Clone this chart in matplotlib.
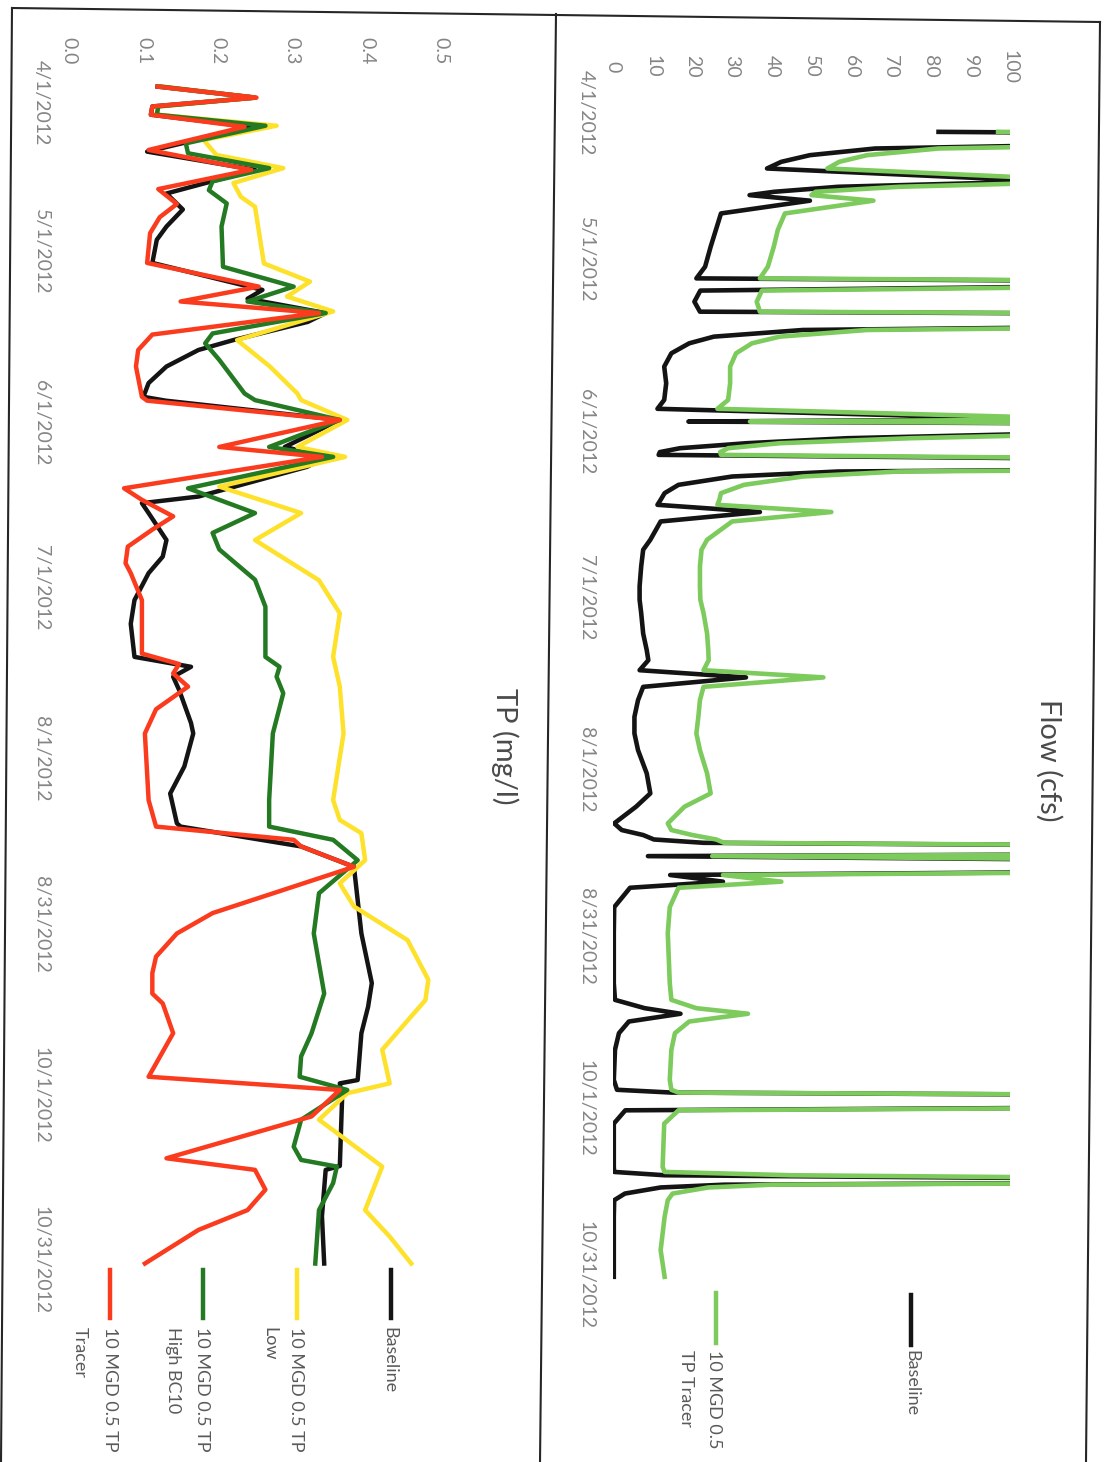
import numpy as np
import pandas as pd
import matplotlib
matplotlib.use('Agg')
import matplotlib.pyplot as plt
from matplotlib import transforms
from matplotlib.lines import Line2D

plt.rcParams['font.family'] = ['Lato', 'DejaVu Sans']

# ---- data (days since 4/1/2012) ----
flow_day = [7.0, 7.6, 9.2, 10.0, 11.2, 12.4, 13.6, 15.9, 16.9, 17.8,
            18.4, 19.4, 21.7, 24.7, 27.7, 31.3, 33.4, 34.2, 35.6, 37.6,
            39.4, 40.0, 41.9, 42.7, 43.9, 45.1, 46.9, 49.3, 52.3, 55.3,
            56.9, 58.8, 59.2, 59.8, 61.2, 62.2, 63.1, 64.0, 64.7, 65.2,
            66.4, 67.5, 68.2, 69.1, 70.6, 72.1, 73.3, 74.2, 75.5, 77.2,
            80.5, 82.3, 85.3, 88.9, 91.3, 93.7, 97.4, 100.4, 102.2, 104.0,
            105.3, 107.0, 109.4, 112.4, 115.4, 118.4, 122.6, 126.2, 128.6, 131.6,
            132.8, 133.7, 134.5, 135.1, 135.9, 137.1, 137.5, 138.6, 140.2, 140.9,
            142.1, 143.2, 146.7, 151.4, 160.4, 163.4, 164.9, 165.9, 167.3, 169.4,
            172.4, 177.8, 179.6, 180.1, 180.8, 182.7, 183.3, 185.7, 193.5, 194.4,
            195.0, 196.0, 196.3, 196.7, 197.2, 198.3, 199.5, 202.5, 205.5, 208.5,
            213.3]
flow_base = [82, 200, 130, 66, 49.6, 42.4, 38.8, 110, 56.7, 40.6,
             34.4, 49.6, 27.2, 25.9, 24.6, 23.2, 21.0, 200, 22.0, 20.5,
             21.9, 200, 160, 47.8, 25.4, 19.2, 14.7, 12.9, 13.4, 12.9,
             11.2, 110, 19.0, 200, 120, 59, 33.7, 16.9, 11.8, 11.5,
             200, 200, 56.7, 30.0, 16.5, 13.0, 12.0, 11.2, 37.0, 12.0,
             9.4, 7.6, 7.1, 6.7, 6.7, 7.1, 7.6, 8.5, 8.9, 6.7,
             33.5, 7.6, 6.3, 5.4, 5.4, 6.3, 8.5, 9.4, 5.8, 0.3,
             2.2, 7.6, 10.3, 22.8, 200, 160, 8.8, 200, 150, 14.4,
             27.7, 4.3, 0.3, 0.2, 0.2, 0.5, 8.0, 17.0, 4.0, 1.5,
             0.5, 0.2, 1.0, 14.7, 200, 150, 3.1, 0.2, 0.2, 0.3,
             13.0, 200, 150, 28.0, 12.0, 3.0, 0.3, 0.2, 0.2, 0.2,
             0.2]
flow_tracer = [97, 215, 145, 82, 64, 57, 54, 125, 72, 51,
               50, 65.6, 43.3, 41.5, 40.5, 39.0, 37.0, 215, 37.5, 36.2,
               37.0, 215, 175, 64, 42, 35, 31, 29.5, 29.5, 29.0,
               26.3, 125, 34.5, 215, 135, 75, 42, 29, 27, 27.2,
               215, 215, 72, 47.8, 33, 27.2, 26.8, 26.3, 55, 30,
               23.7, 22.3, 21.9, 21.9, 22.0, 22.8, 23.7, 24.0, 24.1, 22.8,
               53, 22.8, 21.9, 21.5, 21.0, 21.9, 23.7, 24.6, 18.0, 13.8,
               14.7, 20.0, 26.0, 28.0, 215, 175, 25.0, 215, 165, 27.7,
               42.4, 16.5, 14.3, 13.8, 14.3, 14.7, 21.0, 34.0, 19.2, 15.6,
               14.7, 14.3, 14.7, 16.5, 215, 165, 16.5, 12.9, 12.5, 13.0,
               45, 215, 165, 40, 24, 15, 13.8, 13.0, 12.5, 12.0,
               13.0]

tp_base_day = [0.0, 2.0, 3.6, 5.1, 7.3, 11.8, 15.1, 19.4, 22.3, 25.4,
               27.8, 32.0, 36.9, 38.5, 41.1, 42.7, 46.0, 47.8, 50.8, 53.8,
               56.3, 57.0, 60.5, 65.4, 67.2, 69.0, 74.4, 75.6, 77.4, 82.3,
               85.3, 88.3, 93.2, 97.5, 103.5, 105.3, 107.1, 109.5, 115.5, 117.4,
               123.4, 128.3, 133.7, 134.3, 137.9, 141.6, 153.7, 162.7, 167.0, 171.8,
               180.3, 180.9, 183.9, 195.9, 196.6, 205.0, 213.6]
tp_base = [0.119, 0.25, 0.112, 0.11, 0.245, 0.105, 0.25, 0.131, 0.153, 0.131,
           0.118, 0.112, 0.26, 0.24, 0.345, 0.321, 0.221, 0.174, 0.131, 0.107,
           0.1, 0.13, 0.364, 0.29, 0.345, 0.32, 0.174, 0.098, 0.107, 0.131,
           0.126, 0.107, 0.088, 0.083, 0.088, 0.164, 0.14, 0.148, 0.164, 0.167,
           0.155, 0.136, 0.145, 0.15, 0.312, 0.383, 0.393, 0.407, 0.402, 0.393,
           0.388, 0.364, 0.367, 0.364, 0.345, 0.34, 0.343]

tp_low_day = [0.0, 2.0, 3.6, 5.1, 7.1, 9.7, 12.4, 14.8, 17.5, 20.0,
              21.8, 32.1, 35.4, 38.1, 40.8, 46.0, 50.8, 55.7, 56.9, 60.5,
              65.4, 67.2, 72.6, 77.4, 82.3, 89.6, 95.6, 103.5, 108.9, 117.4,
              129.5, 133.1, 135.5, 140.4, 144.6, 148.8, 154.9, 162.1, 165.8, 174.8,
              180.9, 182.7, 187.5, 191.8, 196.0, 203.9, 208.7, 213.6]
tp_low = [0.124, 0.25, 0.12, 0.118, 0.279, 0.181, 0.198, 0.288, 0.221, 0.231,
          0.25, 0.262, 0.324, 0.293, 0.355, 0.226, 0.27, 0.307, 0.312, 0.374,
          0.307, 0.371, 0.202, 0.312, 0.25, 0.336, 0.364, 0.355, 0.364, 0.369,
          0.355, 0.364, 0.393, 0.398, 0.364, 0.383, 0.455, 0.483, 0.479, 0.421,
          0.431, 0.374, 0.336, 0.379, 0.421, 0.398, 0.431, 0.46]

tp_high_day = [0.0, 2.0, 3.6, 5.1, 7.1, 10.3, 12.1, 14.8, 17.2, 18.8,
               21.2, 25.4, 32.7, 36.3, 39.0, 41.1, 44.8, 46.6, 49.6, 55.7,
               56.9, 60.5, 65.4, 67.2, 72.9, 77.4, 81.0, 84.0, 89.5, 94.4,
               103.5, 105.3, 107.1, 110.1, 117.4, 129.5, 134.3, 136.7, 140.4, 146.4,
               153.7, 164.6, 171.8, 176.0, 179.7, 182.1, 187.5, 192.4, 194.8, 196.0,
               199.0, 203.9, 213.6]
tp_high = [0.124, 0.25, 0.12, 0.118, 0.264, 0.157, 0.16, 0.269, 0.193, 0.188,
           0.212, 0.205, 0.207, 0.302, 0.24, 0.345, 0.193, 0.183, 0.202, 0.236,
           0.25, 0.364, 0.269, 0.355, 0.16, 0.25, 0.193, 0.202, 0.25, 0.264,
           0.264, 0.283, 0.279, 0.288, 0.274, 0.269, 0.269, 0.355, 0.388, 0.336,
           0.329, 0.343, 0.326, 0.312, 0.31, 0.374, 0.312, 0.302, 0.312, 0.36,
           0.355, 0.336, 0.331]

tp_tracer_day = [0.0, 2.0, 3.6, 5.1, 7.3, 11.5, 15.1, 18.6, 21.3, 23.7,
                 26.6, 32.0, 36.3, 39.0, 41.1, 45.0, 47.8, 50.8, 56.3, 57.0,
                 60.5, 65.4, 67.2, 72.9, 75.0, 78.0, 80.4, 83.5, 86.5, 88.3,
                 93.2, 102.9, 104.8, 106.5, 108.9, 113.0, 117.4, 129.5, 134.3, 136.7,
                 137.9, 141.6, 145.8, 150.0, 153.7, 157.9, 160.9, 164.6, 166.4, 171.8,
                 179.7, 182.1, 186.9, 194.5, 196.6, 200.2, 203.9, 207.5, 213.6]
tp_tracer = [0.119, 0.252, 0.112, 0.11, 0.236, 0.107, 0.245, 0.12, 0.145, 0.122,
             0.109, 0.105, 0.255, 0.15, 0.336, 0.112, 0.093, 0.09, 0.098, 0.105,
             0.364, 0.202, 0.34, 0.074, 0.098, 0.14, 0.112, 0.079, 0.076, 0.083,
             0.098, 0.098, 0.148, 0.14, 0.16, 0.117, 0.102, 0.107, 0.117, 0.302,
             0.312, 0.383, 0.288, 0.193, 0.145, 0.117, 0.112, 0.112, 0.126, 0.14,
             0.107, 0.364, 0.326, 0.131, 0.25, 0.264, 0.24, 0.174, 0.102]

tick_dates = ['2012-04-01', '2012-05-01', '2012-06-01', '2012-07-01',
              '2012-08-01', '2012-08-31', '2012-10-01', '2012-10-31']
flow_ticks = [0, 10, 20, 30, 40, 50, 60, 70, 80, 90, 100]
tp_ticks = [0.0, 0.1, 0.2, 0.3, 0.4, 0.5]

start = pd.Timestamp('2012-04-01')
tick_days = [(pd.Timestamp(t) - start).days for t in tick_dates]
tick_labels = [f"{pd.Timestamp(t).month}/{pd.Timestamp(t).day}/{pd.Timestamp(t).year}" for t in tick_dates]

BLACK = '#141414'
LGREEN = '#7ccb5c'
YELLOW = '#fde12a'
DGREEN = '#237a22'
RED = '#fb3b1e'
GREY = '#858585'
TXT = '#5a5a5a'

W, H = 1110, 1462
fig = plt.figure(figsize=(W / 100, H / 100), dpi=100)


def box(x0, x1, y0, y1):
    return [x0 / W, 1 - y1 / H, (x1 - x0) / W, (y1 - y0) / H]


def style(ax, xt, xl, xpad, ypad, first_shift):
    for s in ax.spines.values():
        s.set_visible(False)
    ax.patch.set_alpha(0)
    ax.xaxis.tick_top()
    ax.set_xticks(xt, xl)
    ax.set_yticks(tick_days[1:], tick_labels[1:])
    ax.tick_params(length=0, labelsize=14, labelcolor=GREY)
    ax.tick_params(axis='x', pad=xpad, labelrotation=-90)
    ax.tick_params(axis='y', pad=ypad, labelrotation=-90)
    plt.setp(ax.get_xticklabels(), va='center', ha='center')
    plt.setp(ax.get_yticklabels(), va='center', ha='right')
    # first date label sits a bit inside the axis end, like the original
    tr = transforms.blended_transform_factory(ax.transAxes, ax.transData)
    tr = transforms.offset_copy(tr, fig=fig, x=-ypad * 100 / 72, y=-first_shift, units='dots')
    ax.text(0, tick_days[0], tick_labels[0], transform=tr, rotation=-90,
            ha='right', va='center', fontsize=14, color=GREY)


# ---- Flow panel (right) ----
ax_q = fig.add_axes(box(613, 1010, 93 - 2 * 5.55, 93 + 218 * 5.55))
ax_q.set_xlim(0, 100)
ax_q.set_ylim(218, -2)
ax_q.plot(flow_base, flow_day, color=BLACK, lw=3.3, solid_joinstyle='round')
ax_q.plot(flow_tracer, flow_day, color=LGREEN, lw=3.3, solid_joinstyle='round')
style(ax_q, flow_ticks, [str(v) for v in flow_ticks], 11, 13, 20)

# ---- TP panel (left) ----
ax_p = fig.add_axes(box(69, 441, 86.6 - 2 * 5.51, 86.6 + 218 * 5.51))
ax_p.set_xlim(0, 0.5)
ax_p.set_ylim(218, -2)
ax_p.plot(tp_base, tp_base_day, color=BLACK, lw=3.2, solid_joinstyle='round')
ax_p.plot(tp_low, tp_low_day, color=YELLOW, lw=3.2, solid_joinstyle='round')
ax_p.plot(tp_high, tp_high_day, color=DGREEN, lw=3.2, solid_joinstyle='round')
ax_p.plot(tp_tracer, tp_tracer_day, color=RED, lw=3.2, solid_joinstyle='round')
style(ax_p, tp_ticks, [f"{v:.1f}" for v in tp_ticks], 18, 14, 16)

# titles
fig.text(1049 / W, 1 - 760 / H, 'Flow (cfs)', rotation=-90, ha='center', va='center',
         fontsize=21, color='#4a4a4a')
fig.text(505 / W, 1 - 746 / H, 'TP (mg/l)', rotation=-90, ha='center', va='center',
         fontsize=21, color='#4a4a4a')


# legends (drawn by hand, rotated like the page)
def legend_entry(x, y0, y1, color, lines, ytext):
    fig.add_artist(Line2D([x / W, x / W], [1 - y0 / H, 1 - y1 / H], color=color, lw=3.2,
                          transform=fig.transFigure))
    for txt, tx in lines:
        fig.text(tx / W, 1 - ytext / H, txt, rotation=-90, ha='center', va='top',
                 fontsize=13, color=TXT)


legend_entry(911, 1295, 1345, BLACK, [('Baseline', 911)], 1350)
legend_entry(716, 1293, 1343, LGREEN, [('10 MGD 0.5', 714), ('TP Tracer', 686)], 1350)
legend_entry(391, 1270, 1318, BLACK, [('Baseline', 389)], 1327)
legend_entry(297, 1270, 1318, YELLOW, [('10 MGD 0.5 TP', 296), ('Low', 269)], 1327)
legend_entry(203, 1270, 1318, DGREEN, [('10 MGD 0.5 TP', 202), ('High BC10', 173)], 1327)
legend_entry(110, 1270, 1318, RED, [('10 MGD 0.5 TP', 110), ('Tracer', 80)], 1327)

# page frame lines (scan is slightly skewed)
for (xa, ya), (xb, yb) in [((12, 8), (1100, 22)), ((12, 8), (1, 1462)),
                           ((556, 14), (540, 1462)), ((1100, 22), (1086, 1462))]:
    fig.add_artist(Line2D([xa / W, xb / W], [1 - ya / H, 1 - yb / H], color='#262626',
                          lw=1.5, transform=fig.transFigure))

fig.savefig('out.png', dpi=100)
